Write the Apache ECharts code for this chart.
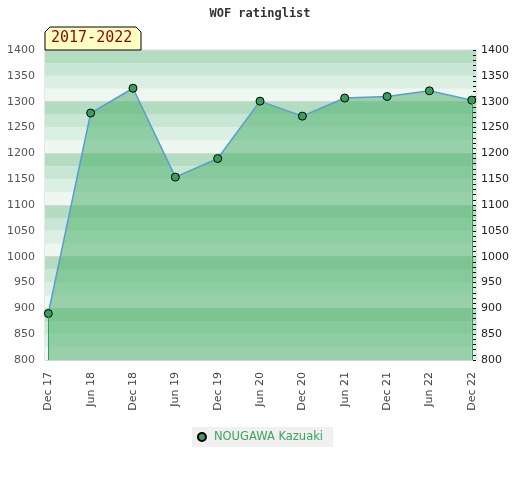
<!DOCTYPE html>
<html><head><meta charset="utf-8">
<script src="https://cdn.jsdelivr.net/npm/echarts@6/dist/echarts.min.js"></script>
<style>html,body{margin:0;padding:0;background:#fff}#c{width:520px;height:480px}</style>
</head><body><div id="c"></div>
<script>
var categories = ['Dec 17','Jun 18','Dec 18','Jun 19','Dec 19','Jun 20','Dec 20','Jun 21','Dec 21','Jun 22','Dec 22'];
var ratings = [890, 1278, 1326, 1154, 1190, 1301, 1272, 1307, 1310, 1321, 1303];
var yMin = 800, yMax = 1400;
var seriesName = 'NOUGAWA Kazuaki';
var periodLabel = '2017-2022';
var titleText = 'WOF ratinglist';

var chart = echarts.init(document.getElementById('c'), null, {renderer:'canvas'});
var pts = ratings.map(function(v,i){return [i,v];});
var last = ratings.length-1;
var font = 'DejaVu Sans';
var opt = {
  animation:false,
  title:{text:titleText,left:'center',top:3,textStyle:{fontFamily:'DejaVu Sans Mono',fontWeight:'bold',fontSize:12,color:'#333'}},
  grid:{left:45,right:44,top:50,bottom:120,containLabel:false,show:true,borderColor:'#d0d0d0',borderWidth:1},
  legend:{bottom:33,left:'center',backgroundColor:'#f0f0f0',padding:[4,10,4,5],icon:'circle',itemWidth:14,itemHeight:8,
    textStyle:{color:'#3aa55a',fontFamily:font,fontSize:11.5},data:[seriesName]},
  xAxis:{type:'value',min:-0.078,max:10.1,axisLine:{show:false},axisTick:{show:false},splitLine:{show:false},
    axisLabel:{customValues:categories.map(function(c,i){return i;}),rotate:90,margin:12,color:'#444',fontFamily:font,fontSize:11,
      formatter:function(v){return categories[Math.round(v)]||'';}}},
  yAxis:[
    {type:'value',min:yMin,max:yMax,interval:25,position:'left',axisLine:{show:false},axisTick:{show:false},splitLine:{show:false},
      axisLabel:{color:'#555',fontFamily:font,fontSize:11,margin:10,formatter:function(v){return v%50===0?String(v):'';}},
      splitArea:{show:true,areaStyle:{color:['#eff7f1','#dcefe3','#c8e6d3','#b3dcc0']}}},
    {type:'value',min:yMin,max:yMax,interval:50,position:'right',axisLine:{show:false},splitLine:{show:false},
      axisTick:{show:true,inside:true,length:3,lineStyle:{color:'#000'}},
      minorTick:{show:true,splitNumber:5,length:3,lineStyle:{color:'#000'}},
      axisLabel:{color:'#222',fontFamily:font,fontSize:11,margin:5,formatter:function(v){return String(v);}}},
    {type:'value',min:yMin,max:yMax,interval:100,position:'left',axisLine:{show:false},axisTick:{show:false},axisLabel:{show:false},
      splitLine:{show:true,lineStyle:{color:'#d3d8d4',width:1}}}
  ],
  series:[{
    name:seriesName,type:'line',data:pts,yAxisIndex:0,
    symbol:'circle',symbolSize:8,
    itemStyle:{color:'#3a9e5e',borderColor:'#000',borderWidth:1},
    lineStyle:{color:'#5b9bd5',width:1.5},
    areaStyle:{color:'#48ae68',opacity:0.52,origin:'start'},
    markLine:{silent:true,symbol:'none',label:{show:false},lineStyle:{color:'#2ca05a',width:1,type:'solid'},
      data:[[{coord:[0,yMin]},{coord:[0,ratings[0]]}],[{coord:[last,yMin]},{coord:[last,ratings[last]]}]]},
    z:3
  }],
  graphic:[
    {type:'polygon',shape:{points:[[45,50],[45,32],[50,27],[136,27],[141,32],[141,50]]},style:{fill:'#ffffc4',stroke:'#000',lineWidth:1},z:10},
    {type:'text',left:51,top:31,style:{text:periodLabel,fill:'#990000',font:'15px "DejaVu Sans Mono"'},z:11}
  ]
};
chart.setOption(opt);
</script></body></html>
